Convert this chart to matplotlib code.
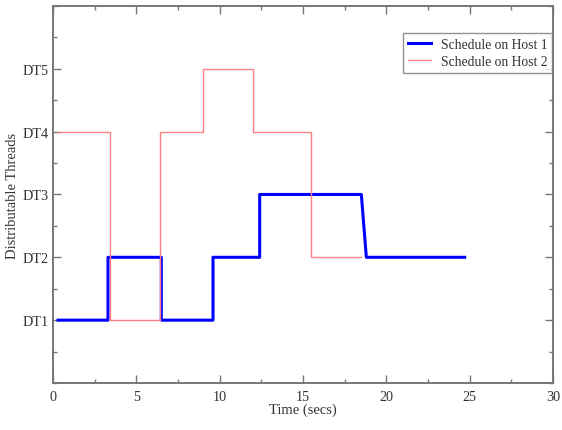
import matplotlib
matplotlib.use("Agg")
import matplotlib.pyplot as plt
from matplotlib.ticker import MultipleLocator

plt.rcParams['font.family'] = ['Liberation Serif', 'DejaVu Serif']

host1_x = [0.3, 3.3, 3.3, 6.5, 6.5, 9.6, 9.6, 12.4, 12.4, 18.5, 18.8, 24.7]
host1_y = [1, 1, 2, 2, 1, 1, 2, 2, 3, 3, 2, 2]
host2_x = [0.3, 3.4, 3.4, 6.4, 6.4, 9.0, 9.0, 12.0, 12.0, 15.5, 15.5, 18.5]
host2_y = [4, 4, 1, 1, 4, 4, 5, 5, 4, 4, 2, 2]
ytick_vals = [1, 2, 3, 4, 5]
ytick_labels = ['DT1', 'DT2', 'DT3', 'DT4', 'DT5']

fig = plt.figure(figsize=(5.62, 4.31), dpi=100)
ax = fig.add_axes([0.0943, 0.109, 0.8897, 0.875])
ax.plot(host1_x, host1_y, color='#0000ff', lw=2.2, label='Schedule on Host 1')
ax.plot(host2_x, host2_y, color='#ff8080', lw=1.0, label='Schedule on Host 2')
ax.set_xlim(0, 30)
ax.set_ylim(0, 6)
ax.set_xticks([0, 5, 10, 15, 20, 25, 30])
ax.xaxis.set_minor_locator(MultipleLocator(2.5))
ax.set_yticks(ytick_vals)
ax.set_yticklabels(ytick_labels)
ax.yaxis.set_minor_locator(MultipleLocator(0.5))
ax.tick_params(which='both', direction='in', top=True, right=True, color='#777777', labelsize=10.2, colors='#333333')
ax.tick_params(which='major', length=6, width=1)
ax.tick_params(which='minor', length=3, width=1)
ax.tick_params(axis='y', which='major', pad=3)
ax.tick_params(axis='x', which='major', pad=5)
for s in ax.spines.values():
    s.set_color('#777777')
    s.set_linewidth(1.4)
ax.set_xlabel('Time (secs)', fontsize=10.5, color='#333333', labelpad=0)
ax.set_ylabel('Distributable Threads', fontsize=10.5, color='#333333', labelpad=3)
leg = ax.legend(loc='upper right', bbox_to_anchor=(1.004, 0.935), fontsize=9.8, frameon=True,
                fancybox=False, edgecolor='#777777', handlelength=1.7, borderpad=0.35,
                labelspacing=0.3, handletextpad=0.7, borderaxespad=0.2)
leg.get_frame().set_linewidth(1.0)
for t in leg.get_texts():
    t.set_color('#333333')
fig.savefig('out.png', dpi=100)
